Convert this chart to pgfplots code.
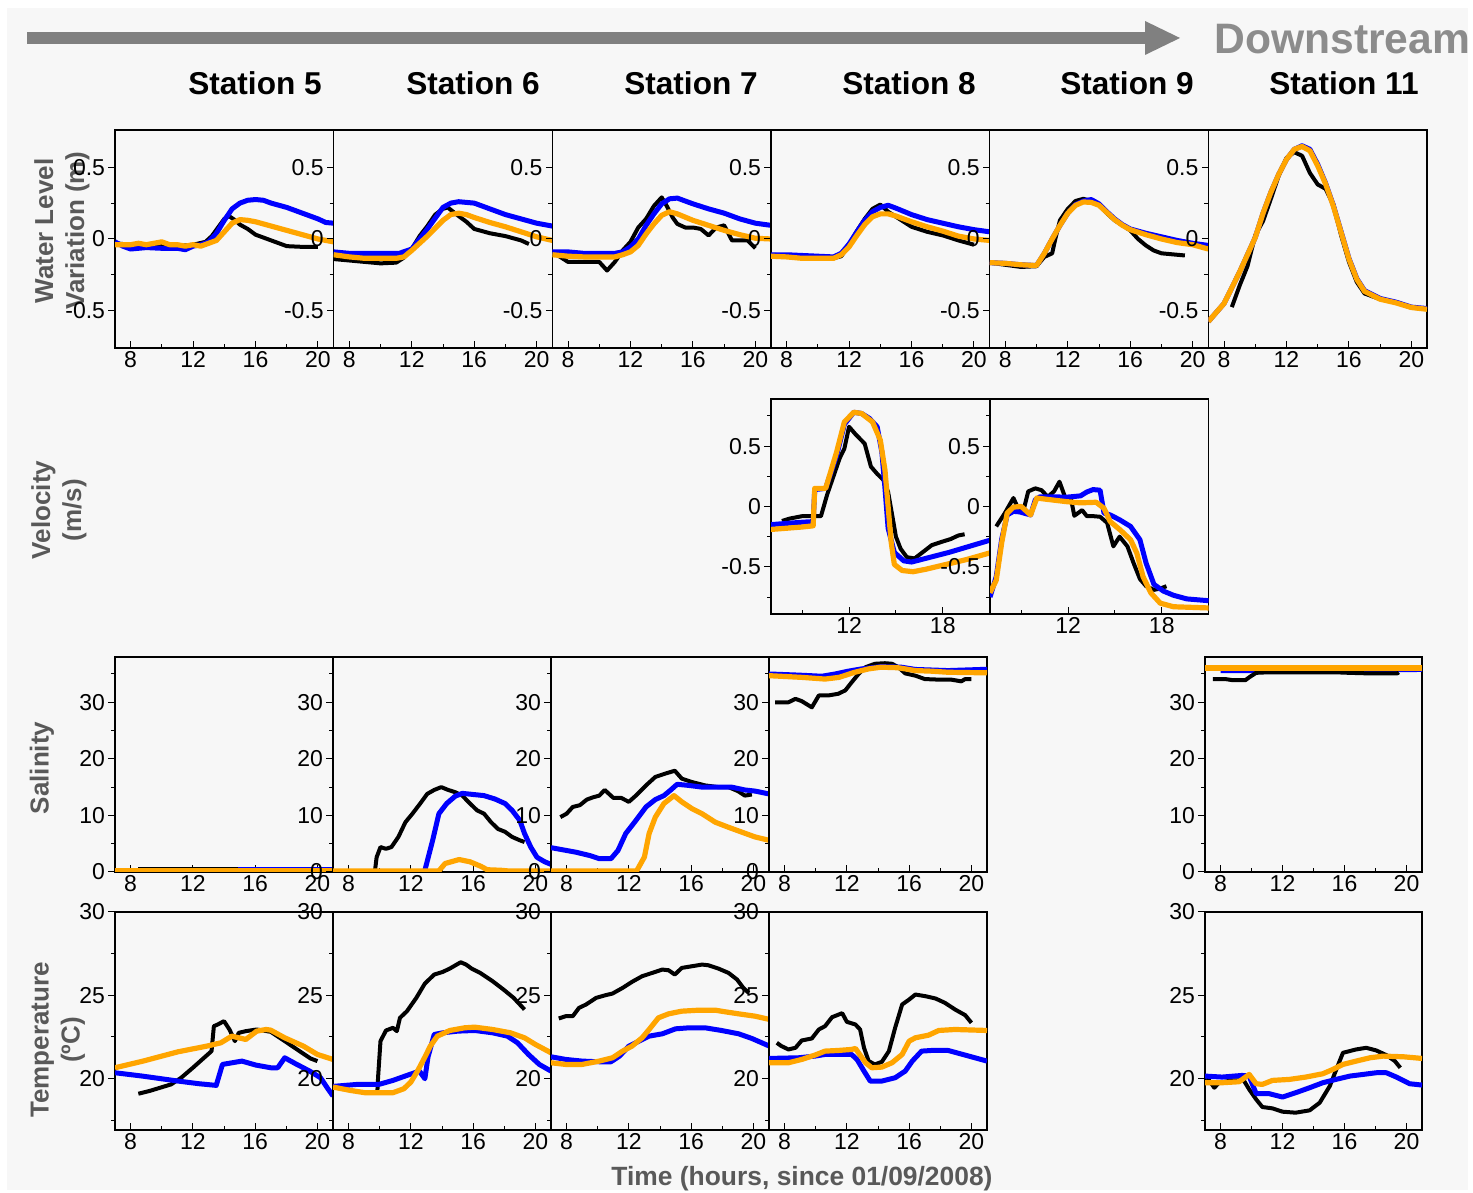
\documentclass[border=0pt]{standalone}
\usepackage{pgfplots}
\pgfplotsset{compat=1.18}
\usepackage{fontspec}
\setmainfont{Liberation Sans}
\definecolor{bg}{HTML}{F7F7F7}
\definecolor{orangeC}{HTML}{FFA500}
\definecolor{lab}{HTML}{595959}
\definecolor{arrowc}{HTML}{808080}
\definecolor{downc}{HTML}{8C8C8C}
\pgfplotsset{
  base/.style={scale only axis, anchor=south west, xmin=7, xmax=21, tick pos=left,
    xtick align=inside, ytick align=outside, major tick length=3.3pt, minor tick length=2pt,
    tick style={black, line width=0.5pt}, axis line style={line width=0.6pt},
    tick label style={font=\fontsize{11.5}{11.5}\selectfont},
    xticklabel style={inner sep=1.5pt}, yticklabel style={inner sep=1.5pt}},
  hx/.style={xtick={8,12,16,20}, xticklabels={8,12,16,20}, minor xtick={10,14,18}},
  vx/.style={xtick={12,18}, xticklabels={12,18}, minor xtick={9,15}},
  wl/.style={ymin=-0.76, ymax=0.76, ytick={-0.5,0,0.5}, yticklabels={-0.5,0,0.5}, minor ytick={-0.25,0.25}},
  vel/.style={ymin=-0.89, ymax=0.89, ytick={-0.5,0,0.5}, yticklabels={-0.5,0,0.5}, minor ytick={-0.75,-0.25,0.25,0.75}},
  sal/.style={ymin=0, ymax=38, ytick={0,10,20,30}, yticklabels={0,10,20,30}, minor ytick={5,15,25,35}},
  tmp/.style={ymin=16.9, ymax=30, ytick={20,25,30}, yticklabels={20,25,30}, minor ytick={17.5,22.5,27.5}},
  ob/.style={black, line width=2pt, line join=round},
  mb/.style={blue, line width=2.5pt, line join=round},
  mo/.style={orangeC, line width=2.6pt, line join=round},
}
\begin{document}
\begin{tikzpicture}
\useasboundingbox (0,0) rectangle (736.5pt,596.5pt);
\fill[white] (0,0) rectangle (736.5pt,596.5pt);
\fill[bg] (3.5pt,1.5pt) rectangle (734pt,592.5pt);
% arrow
\fill[arrowc] (13.5pt,574.5pt) rectangle (574pt,580.5pt);
\fill[arrowc] (572.5pt,586pt) -- (590pt,577.5pt) -- (572.5pt,569pt) -- cycle;
\node[anchor=west, text=downc, font=\fontsize{21.3}{21.3}\selectfont\bfseries, inner sep=0pt] at (607pt,577pt) {Downstream};
% station titles
\foreach \x/\t in {127.5/5, 236.5/6, 345.5/7, 454.5/8, 563.5/9, 672/11}
  \node[font=\fontsize{15.8}{15.8}\selectfont\bfseries, inner sep=0pt] at (\x pt,555pt) {Station \t};
% row labels
\node[rotate=90, align=center, text=lab, font=\fontsize{13}{15.5}\selectfont\bfseries] at (31pt,481pt) {Water Level\\Variation (m)};
\node[rotate=90, align=center, text=lab, font=\fontsize{13}{15.5}\selectfont\bfseries] at (29.5pt,341.5pt) {Velocity\\(m/s)};
\node[rotate=90, align=center, text=lab, font=\fontsize{13}{15.5}\selectfont\bfseries] at (21pt,212.5pt) {Salinity};
\node[rotate=90, align=center, text=lab, font=\fontsize{13}{15.5}\selectfont\bfseries] at (29pt,76.5pt) {Temperature\\(ºC)};
\node[text=lab, font=\fontsize{13.2}{13.2}\selectfont\bfseries] at (401pt,7pt) {Time (hours, since 01/09/2008)};

%================ ROW 1: water level
\begin{axis}[base,hx,wl, at={(57.5pt,422.5pt)}, width=109.3pt, height=109pt]
\addplot[ob] coordinates {(7,-0.03)(8,-0.04)(9,-0.05)(10,-0.04)(11,-0.05)(12,-0.04)(12.8,-0.02)(13.2,0.02)(13.6,0.08)(14,0.14)(14.3,0.16)(14.7,0.13)(15,0.10)(15.5,0.07)(16,0.03)(16.5,0.01)(17,-0.01)(17.5,-0.03)(18,-0.05)(19,-0.055)(20,-0.055)};
\addplot[mb] coordinates {(7,-0.02)(7.5,-0.05)(8,-0.07)(9,-0.06)(10,-0.065)(11,-0.065)(11.5,-0.075)(12,-0.05)(12.5,-0.04)(13,-0.02)(13.5,0.04)(14,0.13)(14.5,0.21)(15,0.25)(15.5,0.27)(16,0.275)(16.5,0.27)(17,0.25)(18,0.22)(19,0.18)(20,0.14)(20.5,0.115)(21,0.11)};
\addplot[mo] coordinates {(7,-0.04)(7.5,-0.04)(8,-0.04)(8.5,-0.03)(9,-0.04)(9.5,-0.03)(10,-0.02)(10.5,-0.04)(11,-0.04)(11.5,-0.05)(12,-0.04)(12.5,-0.05)(13,-0.03)(13.5,-0.01)(14,0.05)(14.5,0.11)(15,0.135)(15.5,0.13)(16,0.12)(17,0.09)(18,0.06)(19,0.03)(20,0.0)(21,-0.02)};
\end{axis}
\begin{axis}[base,hx,wl, at={(166.85pt,422.5pt)}, width=109.3pt, height=109pt]
\addplot[ob] coordinates {(7,-0.14)(8,-0.15)(9,-0.16)(10,-0.17)(11,-0.165)(11.5,-0.13)(12,-0.07)(12.5,0.02)(13,0.09)(13.5,0.17)(14,0.21)(14.3,0.22)(15,0.16)(15.5,0.12)(16,0.07)(17,0.04)(18,0.02)(19,-0.01)(19.5,-0.035)};
\addplot[mb] coordinates {(7,-0.09)(8,-0.1)(9,-0.1)(10,-0.1)(11.2,-0.1)(12,-0.07)(13,0.07)(14,0.22)(14.5,0.25)(15,0.26)(16,0.25)(17,0.21)(18,0.17)(19,0.14)(20,0.11)(21,0.09)};
\addplot[mo] coordinates {(7,-0.11)(8,-0.125)(9,-0.135)(10,-0.135)(11,-0.135)(11.5,-0.125)(12,-0.08)(13,0.02)(14,0.13)(14.5,0.17)(15,0.18)(15.5,0.17)(16,0.15)(17,0.115)(18,0.085)(19,0.05)(20,0.015)(21,-0.01)};
\end{axis}
\begin{axis}[base,hx,wl, at={(276.2pt,422.5pt)}, width=109.3pt, height=109pt]
\addplot[ob] coordinates {(7,-0.09)(7.5,-0.125)(8,-0.16)(9,-0.16)(10,-0.16)(10.5,-0.22)(11,-0.16)(11.5,-0.08)(12,-0.02)(12.5,0.08)(13,0.14)(13.5,0.23)(14,0.29)(14.3,0.235)(14.7,0.15)(15,0.105)(15.5,0.08)(16,0.08)(16.5,0.07)(17,0.025)(17.5,0.08)(18,0.095)(18.5,-0.01)(19,-0.01)(19.5,-0.01)(20,-0.065)};
\addplot[mb] coordinates {(7,-0.09)(8,-0.09)(9,-0.1)(10,-0.1)(11,-0.1)(11.5,-0.09)(12,-0.055)(12.5,0)(13,0.095)(13.5,0.175)(14,0.245)(14.5,0.28)(15,0.285)(16,0.245)(17,0.21)(18,0.18)(19,0.14)(20,0.11)(21,0.095)};
\addplot[mo] coordinates {(7,-0.11)(8,-0.12)(9,-0.125)(10,-0.125)(11,-0.125)(11.5,-0.11)(12,-0.09)(12.5,-0.045)(13,0.035)(13.5,0.105)(14,0.165)(14.5,0.19)(15,0.175)(16,0.13)(17,0.095)(18,0.06)(19,0.03)(20,0.005)(21,0)};
\end{axis}
\begin{axis}[base,hx,wl, at={(385.5pt,422.5pt)}, width=109.3pt, height=109pt]
\addplot[ob] coordinates {(7,-0.11)(9,-0.12)(11,-0.135)(11.5,-0.12)(12,-0.045)(12.5,0.055)(13,0.14)(13.5,0.21)(14,0.24)(14.5,0.19)(15,0.155)(16,0.085)(17,0.05)(18,0.025)(19,-0.01)(20,-0.04)};
\addplot[mb] coordinates {(7,-0.11)(8,-0.11)(10,-0.12)(11,-0.125)(11.5,-0.1)(12,-0.035)(12.5,0.05)(13,0.13)(13.5,0.19)(14,0.22)(14.5,0.235)(15,0.215)(16,0.17)(17,0.135)(18,0.11)(19,0.085)(20,0.065)(21,0.05)};
\addplot[mo] coordinates {(7,-0.12)(8,-0.125)(9,-0.135)(10,-0.135)(11,-0.135)(11.5,-0.11)(12,-0.055)(12.5,0.025)(13,0.10)(13.5,0.155)(14,0.175)(14.5,0.175)(15,0.16)(16,0.12)(17,0.085)(18,0.055)(19,0.02)(20,0)(21,-0.01)};
\end{axis}
\begin{axis}[base,hx,wl, at={(494.85pt,422.5pt)}, width=109.3pt, height=109pt]
\addplot[ob] coordinates {(7,-0.165)(9,-0.195)(10,-0.19)(10.5,-0.125)(11,-0.1)(11.2,0)(11.5,0.13)(12,0.21)(12.5,0.265)(13,0.28)(13.5,0.265)(14,0.235)(14.5,0.18)(15,0.13)(15.5,0.095)(16,0.06)(16.5,0)(17,-0.045)(17.5,-0.08)(18,-0.1)(19,-0.11)(19.5,-0.115)};
\addplot[mb] coordinates {(7,-0.165)(8,-0.17)(9,-0.18)(10,-0.185)(10.5,-0.1)(11,0)(11.5,0.095)(12,0.18)(12.5,0.24)(13,0.265)(13.5,0.275)(14,0.245)(14.5,0.19)(15,0.14)(15.5,0.1)(16,0.07)(17,0.04)(18,0.015)(19,-0.01)(20,-0.03)(21,-0.045)};
\addplot[mo] coordinates {(7,-0.165)(8,-0.17)(9,-0.18)(10,-0.185)(10.5,-0.1)(11,0)(11.5,0.095)(12,0.18)(12.5,0.235)(13,0.258)(13.5,0.255)(14,0.235)(14.5,0.185)(15,0.135)(15.5,0.095)(16,0.065)(17,0.03)(18,0)(19,-0.025)(20,-0.04)(21,-0.07)};
\end{axis}
\begin{axis}[base,hx,wl, at={(604.2pt,422.5pt)}, width=109.3pt, height=109pt]
\addplot[ob] coordinates {(8.5,-0.475)(9,-0.325)(9.5,-0.19)(10,0.025)(10.5,0.125)(11,0.28)(11.5,0.44)(12,0.565)(12.5,0.605)(13,0.58)(13.5,0.46)(14,0.38)(14.5,0.35)(15,0.24)(15.5,0.025)(16,-0.16)(16.5,-0.3)(17,-0.38)(18,-0.42)(19,-0.44)(20,-0.475)};
\addplot[mb] coordinates {(7,-0.575)(8,-0.45)(9,-0.23)(10,0.01)(10.5,0.18)(11,0.325)(11.5,0.45)(12,0.555)(12.5,0.625)(13,0.65)(13.5,0.625)(14,0.52)(14.5,0.39)(15,0.235)(15.5,0.05)(16,-0.135)(16.5,-0.275)(17,-0.36)(18,-0.415)(19,-0.44)(20,-0.475)(21,-0.485)};
\addplot[mo] coordinates {(7,-0.575)(8,-0.45)(9,-0.23)(10,0.01)(10.5,0.18)(11,0.325)(11.5,0.45)(12,0.555)(12.5,0.625)(13,0.645)(13.5,0.615)(14,0.51)(14.5,0.385)(15,0.23)(15.5,0.045)(16,-0.14)(16.5,-0.28)(17,-0.365)(18,-0.42)(19,-0.445)(20,-0.478)(21,-0.49)};
\end{axis}

%================ ROW 2: velocity
\begin{axis}[base,vx,vel, at={(385.5pt,289.5pt)}, width=109.3pt, height=107.5pt]
\addplot[ob] coordinates {(7.7,-0.12)(8.2,-0.1)(9,-0.08)(9.5,-0.08)(10.2,-0.08)(10.6,0.1)(11,0.25)(11.4,0.4)(11.7,0.48)(12,0.66)(12.4,0.6)(13,0.52)(13.4,0.33)(13.8,0.27)(14.2,0.22)(14.5,0.12)(14.8,-0.1)(15,-0.25)(15.3,-0.35)(15.7,-0.42)(16.2,-0.43)(16.7,-0.38)(17.3,-0.32)(18,-0.29)(18.5,-0.27)(19,-0.24)(19.4,-0.23)};
\addplot[mb] coordinates {(7,-0.15)(8,-0.14)(9,-0.13)(9.7,-0.125)(9.8,0.14)(10.5,0.15)(11.2,0.42)(11.7,0.68)(12.3,0.78)(12.8,0.77)(13.3,0.73)(13.8,0.66)(14.1,0.45)(14.3,0.15)(14.5,-0.18)(14.9,-0.38)(15.5,-0.45)(16,-0.46)(17.2,-0.42)(18.4,-0.38)(19.7,-0.33)(21,-0.28)};
\addplot[mo] coordinates {(7,-0.19)(8,-0.18)(9,-0.17)(9.7,-0.16)(9.8,0.15)(10.5,0.15)(11.2,0.45)(11.7,0.7)(12.3,0.78)(12.8,0.77)(13.5,0.70)(14,0.55)(14.3,0.3)(14.5,0.0)(14.7,-0.3)(14.9,-0.48)(15.4,-0.53)(16.1,-0.54)(16.9,-0.52)(18.2,-0.48)(19.5,-0.44)(21,-0.385)};
\end{axis}
\begin{axis}[base,vx,vel, at={(495pt,289.5pt)}, width=109.3pt, height=107.5pt]
\addplot[ob] coordinates {(7.4,-0.165)(7.95,-0.055)(8.5,0.07)(8.8,-0.015)(9.1,-0.055)(9.45,0.125)(9.9,0.15)(10.3,0.135)(10.7,0.08)(11.1,0.125)(11.45,0.205)(11.8,0.08)(12.2,0.055)(12.4,-0.077)(12.9,-0.03)(13.2,-0.08)(13.6,-0.08)(14.05,-0.085)(14.5,-0.135)(14.9,-0.33)(15.3,-0.25)(15.8,-0.33)(16.2,-0.47)(16.6,-0.6)(17,-0.66)(17.5,-0.69)(17.9,-0.68)(18.3,-0.66)};
\addplot[mb] coordinates {(7,-0.75)(7.4,-0.58)(7.75,-0.27)(8.1,-0.07)(8.5,-0.04)(8.9,-0.045)(9.6,-0.07)(9.9,0.055)(10.2,0.08)(11.1,0.08)(11.9,0.077)(12.8,0.088)(13.2,0.12)(13.6,0.14)(14.05,0.135)(14.3,-0.055)(14.7,-0.07)(15.3,-0.11)(16,-0.165)(16.6,-0.275)(17,-0.47)(17.5,-0.645)(18.1,-0.70)(18.75,-0.735)(19.6,-0.765)(21,-0.78)};
\addplot[mo] coordinates {(7,-0.715)(7.4,-0.61)(7.75,-0.3)(8.1,-0.055)(8.5,-0.005)(9,0)(9.6,-0.07)(10,0.07)(10.6,0.06)(11.9,0.04)(12.8,0.03)(13.8,0.035)(14.3,-0.015)(14.7,-0.125)(15.3,-0.19)(16,-0.275)(16.4,-0.385)(16.8,-0.58)(17.3,-0.715)(17.9,-0.80)(18.75,-0.83)(21,-0.84)};
\end{axis}

%================ ROW 3: salinity
\begin{axis}[base,hx,sal, at={(57.5pt,160.5pt)}, width=109pt, height=107.5pt]
\addplot[ob] coordinates {(8.5,0.6)(12,0.6)(16,0.6)(20,0.6)};
\addplot[mb] coordinates {(14.9,0.5)(18,0.5)(21,0.5)};
\addplot[mo] coordinates {(7,0.2)(14,0.2)(21,0.2)};
\end{axis}
\begin{axis}[base,hx,sal, at={(166.5pt,160.5pt)}, width=109pt, height=107.5pt]
\addplot[ob] coordinates {(9.7,0.3)(9.8,2.6)(10.05,4.4)(10.4,4.1)(10.75,4.4)(11.2,6.2)(11.65,8.8)(12.1,10.3)(12.6,12.1)(13.05,13.8)(13.5,14.5)(13.95,15)(14.4,14.5)(14.85,14.1)(15.3,13.5)(15.8,12.1)(16.25,10.9)(16.7,10.3)(17.15,8.8)(17.6,7.6)(18.05,7.1)(18.5,6.2)(19,5.6)(19.3,5.3)};
\addplot[mb] coordinates {(12.9,0.3)(13.4,5.6)(13.8,10.3)(14.3,12.1)(14.85,13.4)(15.3,13.9)(16,13.7)(16.7,13.5)(17.4,12.9)(18.05,12.1)(18.5,10.9)(19,9.1)(19.3,6.8)(19.7,4.4)(20.1,2.6)(20.6,1.8)(21,1.35)};
\addplot[mo] coordinates {(7,0.2)(13.8,0.2)(14.2,1.5)(15.1,2.2)(15.8,1.8)(16.5,1.0)(16.9,0.4)(17.8,0.3)(18.2,0.2)(21,0.2)};
\end{axis}
\begin{axis}[base,hx,sal, at={(275.5pt,160.5pt)}, width=109pt, height=107.5pt]
\addplot[ob] coordinates {(7.6,9.7)(8,10.3)(8.4,11.5)(8.85,11.8)(9.3,12.8)(9.7,13.2)(10.1,13.5)(10.45,14.5)(11,13.1)(11.5,13.1)(12,12.4)(12.45,13.5)(13.1,15.3)(13.7,16.8)(14.35,17.4)(14.95,17.9)(15.4,16.5)(16.05,15.9)(16.9,15.3)(17.75,15)(18.4,15)(19,14.3)(19.45,13.5)(19.9,13.7)};
\addplot[mb] coordinates {(7,4.3)(7.8,3.9)(8.6,3.5)(9.5,2.9)(10.1,2.35)(10.85,2.35)(11.3,3.8)(11.8,6.8)(12.45,9.1)(13.1,11.5)(13.7,12.8)(14.25,13.5)(14.65,14.4)(15.1,15.5)(15.85,15.3)(16.7,15)(17.55,15)(18.6,15)(19.45,14.5)(20.1,14.3)(21,13.8)};
\addplot[mo] coordinates {(7,0.2)(12.5,0.2)(13,2.65)(13.3,6.8)(13.7,9.7)(14.25,12.1)(14.9,13.5)(15.4,12.4)(16.05,11.2)(16.7,10.3)(17.55,8.8)(18.4,7.9)(19.2,7.1)(20.1,6.2)(21,5.6)};
\end{axis}
\begin{axis}[base,hx,sal, at={(384.5pt,160.5pt)}, width=109pt, height=107.5pt]
\addplot[ob] coordinates {(7.4,30)(8.25,30)(8.7,30.6)(9.1,30.2)(9.75,29.1)(10.2,31.2)(10.8,31.2)(11.45,31.5)(11.9,32.1)(12.3,33.5)(12.75,35)(13.2,36.2)(13.8,36.8)(14.45,36.9)(14.9,36.8)(15.3,36.2)(15.75,35.1)(16.4,34.7)(17,34.1)(17.9,34)(18.7,34)(19.35,33.7)(19.6,34.1)(20,34.1)};
\addplot[mb] coordinates {(7,35)(8.9,34.8)(10.4,34.6)(11.25,35)(12.1,35.5)(12.95,35.9)(14.2,36.3)(15.5,36.2)(16.4,35.8)(18.5,35.6)(20.65,35.8)(21,35.8)};
\addplot[mo] coordinates {(7,34.7)(9.1,34.4)(10.6,34.1)(11.5,34.4)(12.5,35.3)(13.4,35.9)(14.2,36.2)(15.3,36.1)(16.4,35.6)(17.4,35.5)(18.5,35.3)(21,35.2)};
\end{axis}
\begin{axis}[base,hx,sal, at={(602.5pt,160.5pt)}, width=108.5pt, height=107.5pt]
\addplot[mb] coordinates {(8,35.6)(10.1,35.6)(14,35.6)(21,35.8)};
\addplot[ob] coordinates {(7.5,34.1)(8.3,34.1)(8.8,33.9)(9.6,33.9)(9.9,34.5)(10.3,35.2)(11.1,35.3)(13.1,35.3)(15.4,35.3)(16.3,35.2)(17.6,35.1)(19.4,35.1)(19.5,35.3)};
\addplot[mo] coordinates {(7,36.05)(21,36.05)};
\end{axis}

%================ ROW 4: temperature
\begin{axis}[base,hx,tmp, at={(57.5pt,31.5pt)}, width=109pt, height=109pt]
\addplot[ob] coordinates {(8.5,19.08)(9.2,19.24)(9.9,19.44)(10.6,19.64)(11.25,20.04)(12,20.64)(12.6,21.14)(13.2,21.64)(13.35,23.14)(13.6,23.24)(14,23.44)(14.35,22.94)(14.7,22.24)(14.95,22.74)(15.4,22.84)(16.1,22.94)(17,22.8)(17.9,22.24)(18.85,21.64)(19.55,21.2)(20,21.04)};
\addplot[mb] coordinates {(7,20.34)(8.75,20.14)(11.05,19.84)(12.4,19.68)(13.5,19.58)(13.9,20.84)(15.15,21.04)(16.05,20.8)(17,20.64)(17.45,20.64)(17.9,21.24)(18.6,20.88)(19.5,20.44)(20.2,20.04)(20.7,19.34)(21,18.94)};
\addplot[mo] coordinates {(7,20.64)(8.8,21.04)(11.05,21.6)(12.9,21.94)(13.8,22.14)(14.5,22.54)(15.4,22.34)(16.1,22.84)(16.7,22.94)(17,22.9)(17.9,22.44)(19.1,21.94)(20,21.44)(21,21.14)};
\end{axis}
\begin{axis}[base,hx,tmp, at={(166.5pt,31.5pt)}, width=109pt, height=109pt]
\addplot[ob] coordinates {(9.85,19.24)(9.9,20.14)(10.05,22.24)(10.4,22.88)(10.85,23.04)(11.1,22.84)(11.3,23.64)(11.75,24.04)(12.35,24.84)(12.9,25.7)(13.5,26.24)(14.05,26.4)(14.5,26.6)(15.2,26.98)(15.55,26.84)(15.9,26.6)(16.45,26.34)(17.25,25.84)(17.95,25.34)(18.6,24.84)(19.3,24.14)};
\addplot[mb] coordinates {(7,19.52)(8.55,19.64)(9.95,19.64)(10.85,19.88)(11.75,20.18)(12.55,20.44)(12.9,19.98)(13.1,21.28)(13.5,22.64)(14.05,22.74)(15,22.84)(16.1,22.88)(17.25,22.74)(18.2,22.54)(18.85,22.14)(19.55,21.44)(20.25,20.84)(21,20.44)};
\addplot[mo] coordinates {(7,19.48)(8.1,19.28)(9.05,19.14)(9.95,19.14)(10.85,19.14)(11.55,19.38)(12,19.78)(12.45,20.48)(12.9,21.28)(13.25,21.94)(13.7,22.54)(14.5,22.88)(15.45,23.04)(16.1,23.08)(17.25,22.94)(18.4,22.74)(19.3,22.44)(20,22.04)(21,21.54)};
\end{axis}
\begin{axis}[base,hx,tmp, at={(275.5pt,31.5pt)}, width=109pt, height=109pt]
\addplot[ob] coordinates {(7.5,23.6)(7.95,23.74)(8.4,23.74)(8.8,24.24)(9.25,24.44)(9.9,24.84)(10.5,25.0)(10.95,25.1)(11.6,25.44)(12.2,25.8)(12.85,26.14)(13.5,26.34)(14.15,26.54)(14.55,26.5)(14.95,26.24)(15.4,26.64)(16.05,26.74)(16.7,26.84)(17.1,26.8)(17.75,26.6)(18.4,26.34)(18.95,25.94)(19.35,25.44)(19.7,25.14)};
\addplot[mb] coordinates {(7,21.3)(7.95,21.14)(9,21.04)(10.1,21.0)(10.85,21.0)(11.4,21.34)(12,21.94)(12.65,22.24)(13.3,22.54)(14.15,22.68)(15,22.98)(15.85,23.04)(16.9,23.04)(17.95,22.88)(19.05,22.68)(19.9,22.4)(21,21.95)};
\addplot[mo] coordinates {(7,20.94)(7.95,20.84)(9,20.84)(10.1,21.04)(10.95,21.24)(11.6,21.64)(12.2,21.94)(12.85,22.44)(13.3,22.94)(13.9,23.64)(14.55,23.88)(15.4,24.04)(16.5,24.1)(17.55,24.1)(18.2,24.0)(19.05,23.88)(20.1,23.74)(21,23.55)};
\end{axis}
\begin{axis}[base,hx,tmp, at={(384.5pt,31.5pt)}, width=109pt, height=109pt]
\addplot[ob] coordinates {(7.5,22.14)(7.8,21.94)(8.25,21.74)(8.7,21.84)(9.1,22.28)(9.75,22.4)(10.2,22.94)(10.6,23.14)(11.05,23.68)(11.7,23.92)(12,23.4)(12.55,23.24)(12.85,22.94)(13.1,21.84)(13.4,21.04)(13.8,20.84)(14.25,21.0)(14.7,21.64)(15.1,23.04)(15.55,24.44)(16,24.74)(16.4,25.04)(17.05,24.94)(17.7,24.8)(18.3,24.54)(18.95,24.14)(19.6,23.8)(20,23.34)};
\addplot[mb] coordinates {(7,21.2)(8.9,21.24)(9.95,21.34)(10.6,21.44)(11.45,21.44)(12.3,21.44)(12.65,21.14)(13.1,20.44)(13.5,19.84)(14.25,19.84)(15.1,20.04)(15.75,20.44)(16.2,21.04)(16.8,21.64)(17.45,21.68)(18.5,21.68)(19.6,21.4)(21,21.04)};
\addplot[mo] coordinates {(7,20.94)(8.25,20.94)(9.1,21.14)(9.95,21.4)(10.6,21.64)(11.45,21.68)(12.3,21.74)(12.55,21.8)(13.2,20.94)(13.6,20.64)(14.25,20.68)(14.9,20.94)(15.55,21.44)(16,22.24)(16.4,22.44)(17.25,22.6)(17.9,22.88)(18.95,22.94)(21,22.88)};
\end{axis}
\begin{axis}[base,hx,tmp, at={(602.5pt,31.5pt)}, width=108.5pt, height=109pt]
\addplot[ob] coordinates {(7.15,20.04)(7.6,19.44)(7.9,19.74)(8.75,19.88)(9.5,19.88)(9.85,19.34)(10.3,18.74)(10.7,18.28)(11.35,18.2)(12,18.0)(12.85,17.94)(13.75,18.08)(14.4,18.54)(15.05,19.54)(15.6,20.84)(15.9,21.54)(16.75,21.74)(17.4,21.84)(18.05,21.68)(18.7,21.4)(19.25,21.04)(19.6,20.64)};
\addplot[mb] coordinates {(7,20.14)(8.1,20.08)(9.4,20.18)(9.85,20.14)(10.3,19.08)(11.15,19.08)(12,18.88)(12.85,19.14)(13.75,19.44)(14.6,19.74)(15.45,19.94)(16.35,20.14)(17.2,20.24)(18.05,20.34)(18.7,20.34)(19.35,20.08)(20.2,19.68)(21,19.6)};
\addplot[mo] coordinates {(7,19.74)(8.1,19.74)(9.2,19.8)(9.85,20.24)(10.3,19.68)(10.7,19.64)(11.35,19.88)(12.45,19.94)(13.5,20.08)(14.6,20.28)(15.25,20.54)(15.9,20.84)(16.75,21.04)(17.65,21.24)(18.5,21.34)(19.8,21.3)(21,21.2)};
\end{axis}
\end{tikzpicture}
\end{document}
